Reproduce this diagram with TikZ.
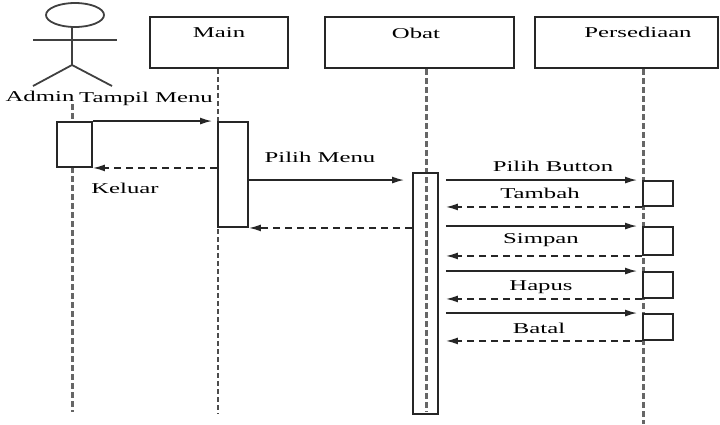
\documentclass[tikz,border=0pt]{standalone}
\usepackage{fontspec}
\setmainfont{Liberation Serif}[FakeStretch=1.65]
\usetikzlibrary{arrows.meta}
\begin{document}
\begin{tikzpicture}[x=1pt,y=-1pt,
  objbox/.style={draw=black!85,line width=2pt,inner sep=0pt,minimum height=51pt},
  lbl/.style={inner sep=1pt,font=\fontsize{15pt}{18pt}\selectfont,text=black},
  actbox/.style={draw=black!85,line width=1.9pt,inner sep=0pt,fill=white},
  lifethick/.style={draw=black!60,line width=3pt,dash pattern=on 6pt off 3pt},
  lifethin/.style={draw=black!70,line width=1.5pt,dash pattern=on 5pt off 3pt},
  msg/.style={draw=black!85,line width=1.5pt,-{Latex[length=12pt,width=7pt]},shorten >=5pt},
  ret/.style={draw=black!85,line width=1.5pt,dash pattern=on 7pt off 5pt,-{Latex[length=12pt,width=7pt]}},
  actorline/.style={draw=black!75,line width=1.8pt}
]
\useasboundingbox (0,0) rectangle (720,424);
% actor
\draw[actorline] (75,15) ellipse [x radius=29pt, y radius=12pt];
\draw[actorline] (72,27) -- (72,65);
\draw[actorline] (33,40) -- (117,40);
\draw[actorline] (33,86) -- (72,65) -- (112,86);
\coordinate (admintop) at (72,104);
\coordinate (adminbot) at (72,412);
\node[lbl] (adminlbl) at (40,96) {Admin};
% objects
\node[objbox,minimum width=138pt] (main) at (219,42.5) {};
\node[objbox,minimum width=189pt] (obat) at (419.5,42.5) {};
\node[objbox,minimum width=183pt] (pers) at (626.5,42.5) {};
\node[lbl] (mainlbl) at (219,33) {Main};
\node[lbl] (obatlbl) at (416,33) {Obat};
\node[lbl] (perslbl) at (638,32) {Persediaan};
% lifelines
\coordinate (mainbot) at (218,414);
\coordinate (obatbot) at (426,412);
\coordinate (persbot) at (643,424);
\draw[lifethick] (admintop) -- (adminbot);
\draw[lifethin] (main.south -| mainbot) -- (mainbot);
\draw[lifethick] (obat.south -| obatbot) -- (obatbot);
\draw[lifethick] (pers.south -| persbot) -- (persbot);
% activations
\node[actbox,minimum width=35pt,minimum height=45pt] (aact) at (74.5,144.5) {};
\node[actbox,minimum width=30pt,minimum height=105pt] (mact) at (233,174.5) {};
\node[actbox,fill=none,minimum width=25pt,minimum height=241pt] (oact) at (425.5,293.5) {};
\node[actbox,minimum width=30pt,minimum height=25pt] (p1) at (658,193.5) {};
\node[actbox,minimum width=30pt,minimum height=28pt] (p2) at (658,241) {};
\node[actbox,minimum width=30pt,minimum height=26pt] (p3) at (658,285) {};
\node[actbox,minimum width=30pt,minimum height=26pt] (p4) at (658,327) {};
% messages
\draw[msg] (aact.north east) -- (mact.north west);
\draw[ret] (aact.south east -| mact.west) -- (aact.south east);
\draw[msg,shorten >=8pt] (mact.east |- p1.north) -- (oact.west |- p1.north);
\draw[ret] (oact.west |- mact.south) -- (mact.south east);
\draw[msg,shorten <=7pt] (oact.east |- p1.north) -- (p1.north west);
\draw[ret,shorten >=7pt] (p1.south west) -- (oact.east |- p1.south);
\draw[msg,shorten <=7pt] (oact.east |- p2.north) -- (p2.north west);
\draw[ret,shorten >=7pt] (p2.south west) -- (oact.east |- p2.south);
\draw[msg,shorten <=7pt] (oact.east |- p3.north) -- (p3.north west);
\draw[ret,shorten >=7pt] (p3.south west) -- (oact.east |- p3.south);
\draw[msg,shorten <=7pt] (oact.east |- p4.north) -- (p4.north west);
\draw[ret,shorten >=7pt] (p4.south west) -- (oact.east |- p4.south);
% labels
\node[lbl] (l1) at (146,99) {Tampil Menu};
\node[lbl] (l2) at (125,188) {Keluar};
\node[lbl] (l3) at (320,157) {Pilih Menu};
\node[lbl] (l4) at (553,166) {Pilih Button};
\node[lbl] (l5) at (540,193) {Tambah};
\node[lbl] (l6) at (541,240) {Simpan};
\node[lbl] (l7) at (541,287) {Hapus};
\node[lbl] (l8) at (539,328) {Batal};
\end{tikzpicture}
\end{document}
